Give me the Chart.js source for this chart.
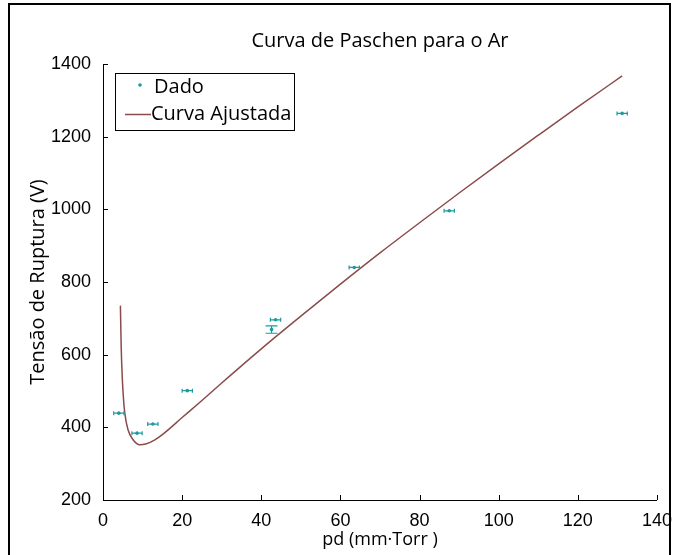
<!DOCTYPE html>
<html>
<head>
<meta charset="utf-8">
<script src="https://cdn.jsdelivr.net/npm/chart.js@4.4.0/dist/chart.umd.min.js"></script>
<style>
html, body { margin: 0; padding: 0; background: #fff; }
#wrap { position: relative; width: 674px; height: 555px; overflow: hidden; }
#frame { position: absolute; left: 8px; top: 3px; width: 663px; height: 570px; border: 2px solid #000; box-sizing: border-box; pointer-events: none; }
</style>
</head>
<body>
<div id="wrap">
  <canvas id="graph" width="674" height="555"></canvas>
  <div id="frame"></div>
</div>
<script>
// measured points (pd in mm.Torr, breakdown voltage in V)
var pdData   = [4.0, 8.6, 12.6, 21.3, 42.6, 43.6, 63.5, 87.5, 131.2];
var voltData = [439, 384, 409, 501, 669, 696, 840, 996, 1264];
var pdErr    = [1.3, 1.3, 1.3, 1.3, 0, 1.3, 1.3, 1.3, 1.3];
var voltErr  = [0, 0, 0, 0, 10, 0, 0, 0, 0];

// fitted curve
var fitPd   = [4.4, 4.6, 4.9, 5.2, 5.5, 6.3, 7.6, 9.3, 11, 13, 15, 20, 25, 30, 40, 50, 60, 70, 80, 90, 100, 110, 120, 131.2];
var fitVolt = [735, 620, 530, 475, 440, 394, 366, 352, 355, 365, 380, 427, 474, 522, 616, 706, 794, 880, 963, 1045, 1125, 1204, 1282, 1367];

var xTicks = [0, 20, 40, 60, 80, 100, 120, 140];
var yTicks = [200, 400, 600, 800, 1000, 1200, 1400];

var dataColor = "#1d9aa0";
var fitColor = "#8a4b4b";
var tickFont = "Liberation Sans";
var textFont = "Open Sans";

var decor = {
  id: "decor",
  afterDatasetsDraw: function(chart) {
    var ctx = chart.ctx, xs = chart.scales.x, ys = chart.scales.y;
    ctx.save();
    ctx.strokeStyle = dataColor;
    ctx.lineWidth = 1.2;
    for (var i = 0; i < pdData.length; i++) {
      var px = xs.getPixelForValue(pdData[i]);
      var py = ys.getPixelForValue(voltData[i]);
      ctx.beginPath();
      if (pdErr[i]) {
        var x0 = xs.getPixelForValue(pdData[i] - pdErr[i]);
        var x1 = xs.getPixelForValue(pdData[i] + pdErr[i]);
        ctx.moveTo(x0, py); ctx.lineTo(x1, py);
        ctx.moveTo(x0, py - 2); ctx.lineTo(x0, py + 2);
        ctx.moveTo(x1, py - 2); ctx.lineTo(x1, py + 2);
      }
      if (voltErr[i]) {
        var y0 = ys.getPixelForValue(voltData[i] - voltErr[i]);
        var y1 = ys.getPixelForValue(voltData[i] + voltErr[i]);
        ctx.moveTo(px, y0); ctx.lineTo(px, y1);
        ctx.moveTo(px - 6, y0); ctx.lineTo(px + 6, y0);
        ctx.moveTo(px - 6, y1); ctx.lineTo(px + 6, y1);
      }
      ctx.stroke();
    }
    ctx.restore();
  },
  afterDraw: function(chart) {
    var ctx = chart.ctx, xs = chart.scales.x, ys = chart.scales.y, area = chart.chartArea;
    ctx.save();
    // inward tick marks
    ctx.strokeStyle = "#000";
    ctx.lineWidth = 1;
    ctx.beginPath();
    xTicks.forEach(function(v) {
      var x = Math.round(xs.getPixelForValue(v)) + 0.5;
      ctx.moveTo(x, area.bottom); ctx.lineTo(x, area.bottom - 5);
    });
    yTicks.forEach(function(v) {
      var y = Math.round(ys.getPixelForValue(v)) + 0.5;
      ctx.moveTo(area.left, y); ctx.lineTo(area.left + 5, y);
    });
    ctx.stroke();

    // title
    ctx.fillStyle = "#000";
    ctx.font = "20px '" + textFont + "'";
    ctx.textAlign = "center";
    ctx.textBaseline = "middle";
    ctx.fillText("Curva de Paschen para o Ar", (area.left + area.right) / 2, 41);

    // legend box
    var lx = 115, ly = 73, lw = 179, lh = 57;
    ctx.fillStyle = "#fff";
    ctx.fillRect(lx, ly, lw, lh);
    ctx.strokeStyle = "#000";
    ctx.strokeRect(lx + 0.5, ly + 0.5, lw, lh);
    var ds = chart.data.datasets;
    ctx.fillStyle = dataColor;
    ctx.beginPath();
    ctx.arc(140, 85, 1.8, 0, Math.PI * 2);
    ctx.fill();
    ctx.strokeStyle = fitColor;
    ctx.lineWidth = 1.5;
    ctx.beginPath();
    ctx.moveTo(125, 114.5); ctx.lineTo(151, 114.5);
    ctx.stroke();
    ctx.fillStyle = "#000";
    ctx.font = "20px '" + textFont + "'";
    ctx.textAlign = "left";
    ctx.fillText(ds[0].label, 154, 87);
    ctx.fillText(ds[1].label, 151, 114);
    ctx.restore();
  }
};

var points = pdData.map(function(x, i) { return { x: x, y: voltData[i] }; });
var curve = fitPd.map(function(x, i) { return { x: x, y: fitVolt[i] }; });

var ctx = document.getElementById("graph").getContext("2d");
var chart = new Chart(ctx, {
  type: "scatter",
  data: {
    datasets: [
      {
        label: "Dado",
        data: points,
        showLine: false,
        pointRadius: 1.8,
        pointBackgroundColor: dataColor,
        pointBorderWidth: 0
      },
      {
        label: "Curva Ajustada",
        type: "line",
        data: curve,
        borderColor: fitColor,
        borderWidth: 1.5,
        pointRadius: 0,
        fill: false,
        cubicInterpolationMode: "monotone"
      }
    ]
  },
  options: {
    responsive: false,
    animation: false,
    events: [],
    layout: { padding: { left: 0, right: 16, top: 64, bottom: 0 } },
    plugins: { legend: { display: false }, title: { display: false }, tooltip: { enabled: false } },
    scales: {
      x: {
        type: "linear",
        min: 0, max: 140,
        afterBuildTicks: function(scale) { scale.ticks = xTicks.map(function(v) { return { value: v }; }); },
        afterFit: function(scale) { scale.height = 55; },
        grid: { display: false },
        border: { display: true, color: "#000", width: 1 },
        ticks: { color: "#000", padding: 2, font: { family: tickFont, size: 18 }, callback: function(v) { return String(v); } },
        title: { display: true, text: "pd (mm·Torr )", color: "#000", padding: { top: 0, bottom: 4 }, font: { family: textFont, size: 18 } }
      },
      y: {
        type: "linear",
        min: 200, max: 1400,
        afterBuildTicks: function(scale) { scale.ticks = yTicks.map(function(v) { return { value: v }; }); },
        afterFit: function(scale) { scale.width = 103; },
        grid: { display: false },
        border: { display: true, color: "#000", width: 1 },
        ticks: { color: "#000", padding: 4, font: { family: tickFont, size: 18 }, callback: function(v) { return String(v); } },
        title: { display: true, text: "Tensão de Ruptura (V)", color: "#000", padding: { top: 26, bottom: 0 }, font: { family: textFont, size: 20 } }
      }
    }
  },
  plugins: [decor]
});
</script>
</body>
</html>
